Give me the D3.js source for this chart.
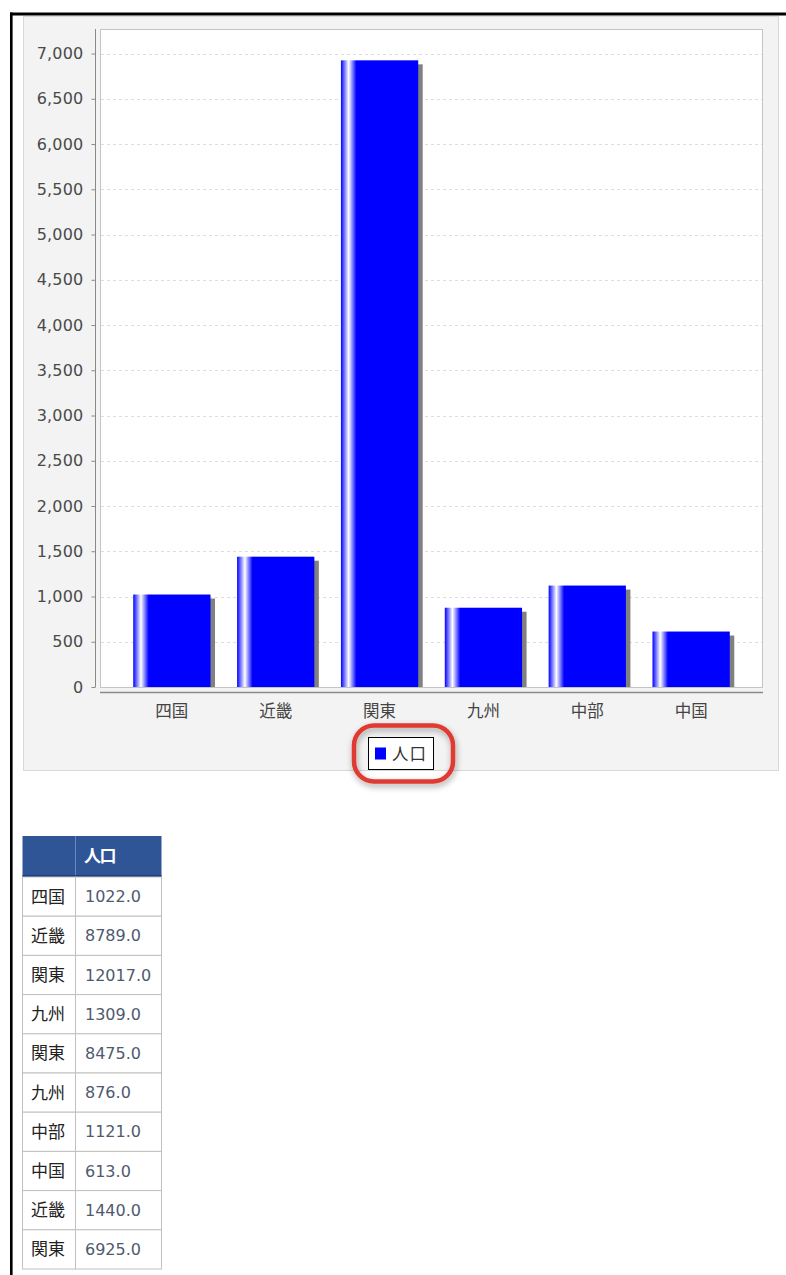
<!DOCTYPE html>
<html><head><meta charset="utf-8">
<script src="https://cdn.jsdelivr.net/npm/d3@7"></script>
<style>
html,body{margin:0;padding:0;background:#fff;}
svg{display:block;}
</style></head>
<body>
<svg id="chart" width="786" height="1275"></svg>
<script>
// ---- data ----
const categories = ["四国", "近畿", "関東", "九州", "中部", "中国"];
const values = [1022, 1440, 6925, 876, 1121, 613];
const seriesName = "人口";
const yTicks = [0, 500, 1000, 1500, 2000, 2500, 3000, 3500, 4000, 4500, 5000, 5500, 6000, 6500, 7000];
const tableCategories = ["四国", "近畿", "関東", "九州", "関東", "九州", "中部", "中国", "近畿", "関東"];
const tableValues = [1022.0, 8789.0, 12017.0, 1309.0, 8475.0, 876.0, 1121.0, 613.0, 1440.0, 6925.0];

const svg = d3.select("#chart");
const cjk = "'Noto Sans CJK JP', 'Noto Sans CJK SC', sans-serif";
const num = "'DejaVu Sans', sans-serif";

// defs
const defs = svg.append("defs");
const grad = defs.append("linearGradient").attr("id", "barGrad")
  .attr("x1", 0).attr("x2", 1).attr("y1", 0).attr("y2", 0);
[[0, "#0000ff"], [0.1, "#ffffff"], [0.2, "#0000ff"], [1, "#0000ff"]].forEach(([o, c]) =>
  grad.append("stop").attr("offset", o).attr("stop-color", c));
const f = defs.append("filter").attr("id", "dshadow").attr("x", "-20%").attr("y", "-30%").attr("width", "140%").attr("height", "170%");
f.append("feDropShadow").attr("dx", 1).attr("dy", 3).attr("stdDeviation", 3).attr("flood-color", "#000").attr("flood-opacity", 0.35);

// page frame lines
svg.append("rect").attr("x", 10).attr("y", 12.5).attr("width", 776).attr("height", 3).attr("fill", "#000");
svg.append("rect").attr("x", 10).attr("y", 12.5).attr("width", 2.6).attr("height", 1263).attr("fill", "#000");

// chart panel
svg.append("rect").attr("x", 23.5).attr("y", 16.5).attr("width", 755).attr("height", 754)
  .attr("fill", "#f3f3f3").attr("stroke", "#d8d8d8");

const plot = {left: 100, right: 763, top: 29, bottom: 687};
const y = d3.scaleLinear().domain([0, 6925 * 1.05]).range([plot.bottom, plot.top]);
const x = d3.scaleBand().domain(categories).range([plot.left, plot.right])
  .paddingInner(0.256).paddingOuter(0.32);

// plot area
svg.append("rect").attr("x", plot.left + 0.5).attr("y", plot.top + 0.5)
  .attr("width", plot.right - plot.left - 1).attr("height", plot.bottom - plot.top)
  .attr("fill", "#fff").attr("stroke", "#c4c4c4");

// gridlines
svg.append("g").selectAll("line").data(yTicks.filter(d => d > 0)).join("line")
  .attr("x1", plot.left + 1).attr("x2", plot.right - 1)
  .attr("y1", d => Math.round(y(d)) + 0.5).attr("y2", d => Math.round(y(d)) + 0.5)
  .attr("stroke", "#dedede").attr("stroke-dasharray", "3,3");

// bar shadows
svg.append("g").selectAll("rect").data(categories).join("rect")
  .attr("x", d => x(d) + 4.5)
  .attr("y", (d, i) => y(values[i]) + 4)
  .attr("width", x.bandwidth())
  .attr("height", (d, i) => Math.max(0, y(0) - y(values[i]) - 4))
  .attr("fill", "#808080");
// bars
svg.append("g").selectAll("rect").data(categories).join("rect")
  .attr("x", d => x(d))
  .attr("y", (d, i) => y(values[i]))
  .attr("width", x.bandwidth())
  .attr("height", (d, i) => y(0) - y(values[i]))
  .attr("fill", "url(#barGrad)");

// y axis
const yAxis = d3.axisLeft(y).tickValues(yTicks).tickSize(4).tickPadding(8)
  .tickFormat(d3.format(","));
const yg = svg.append("g").attr("transform", "translate(95.5,0)").call(yAxis);
yg.select(".domain").attr("d", `M0,${plot.top}V${plot.bottom}`).attr("stroke", "#8a8a8a");
yg.selectAll(".tick line").attr("stroke", "#8a8a8a");
yg.selectAll(".tick text").attr("fill", "#4a4a4a").attr("font-family", num).attr("font-size", 16)
  .attr("letter-spacing", 0.2);

// x axis
const xAxis = d3.axisBottom(x).tickSize(0).tickPadding(13);
const xg = svg.append("g").attr("transform", "translate(0,692.5)").call(xAxis);
xg.select(".domain").attr("d", `M${plot.left},0H${plot.right}`).attr("stroke", "#8a8a8a").attr("stroke-width", 1.6);
xg.selectAll(".tick text").attr("fill", "#444").attr("font-family", cjk).attr("font-size", 16.5);

// legend
const lg = svg.append("g");
lg.append("rect").attr("x", 368.5).attr("y", 737.5).attr("width", 65).attr("height", 32)
  .attr("fill", "#fff").attr("stroke", "#000");
lg.append("rect").attr("x", 375).attr("y", 747.5).attr("width", 11).attr("height", 12).attr("fill", "#0000ff");
lg.append("text").attr("x", 392).attr("y", 754).attr("dy", "0.35em")
  .attr("font-family", cjk).attr("font-size", 16.5).attr("fill", "#333").attr("letter-spacing", 1)
  .text(seriesName);

// red highlight
svg.append("rect").attr("x", 354).attr("y", 725.5).attr("width", 99).attr("height", 56)
  .attr("rx", 20).attr("ry", 20).attr("fill", "none").attr("stroke", "#e03a30").attr("stroke-width", 4.5)
  .attr("filter", "url(#dshadow)");

// table
const t = {x0: 22.5, x1: 75.5, x2: 161.5, top: 836, headH: 41, rowH: 39.2};
svg.append("rect").attr("x", t.x0).attr("y", t.top).attr("width", t.x2 - t.x0).attr("height", t.headH)
  .attr("fill", "#2f5597");
svg.append("line").attr("x1", t.x1).attr("x2", t.x1).attr("y1", t.top).attr("y2", t.top + t.headH)
  .attr("stroke", "#6a86bd");
svg.append("line").attr("x1", t.x0).attr("x2", t.x2).attr("y1", t.top + t.headH - 1).attr("y2", t.top + t.headH - 1)
  .attr("stroke", "#1e3d78").attr("stroke-width", 2);
svg.append("text").attr("x", 84).attr("y", t.top + t.headH / 2).attr("dy", "0.35em")
  .attr("font-family", cjk).attr("font-size", 17).attr("font-weight", "bold").attr("fill", "#fff")
  .attr("letter-spacing", -1.5).text(seriesName);

const rows = svg.append("g").selectAll("g").data(tableCategories).join("g")
  .attr("transform", (d, i) => `translate(0,${t.top + t.headH + i * t.rowH})`);
rows.append("rect").attr("x", t.x0).attr("y", 0).attr("width", t.x1 - t.x0).attr("height", t.rowH)
  .attr("fill", "#fff").attr("stroke", "#c0c0c0");
rows.append("rect").attr("x", t.x1).attr("y", 0).attr("width", t.x2 - t.x1).attr("height", t.rowH)
  .attr("fill", "#fff").attr("stroke", "#c0c0c0");
rows.append("text").attr("x", 31).attr("y", t.rowH / 2).attr("dy", "0.35em")
  .attr("font-family", cjk).attr("font-size", 17).attr("fill", "#222").text(d => d);
rows.append("text").attr("x", 85).attr("y", t.rowH / 2).attr("dy", "0.35em")
  .attr("font-family", num).attr("font-size", 16).attr("fill", "#4f5a6e")
  .text((d, i) => tableValues[i].toFixed(1));
</script>
</body></html>
